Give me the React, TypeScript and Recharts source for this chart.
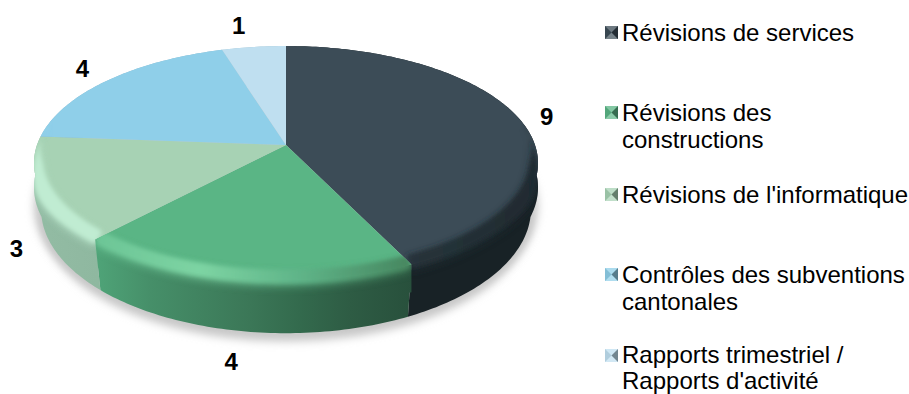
import React from 'react';
import { PieChart, Pie, Legend } from 'recharts';

const categories = [
  'Révisions de services',
  'Révisions des\nconstructions',
  "Révisions de l'informatique",
  'Contrôles des subventions\ncantonales',
  "Rapports trimestriel /\nRapports d'activité",
];
const values = [9, 4, 3, 4, 1];
const faceColors = ['#3c4c57', '#5ab585', '#a7d2b4', '#8fcfe9', '#bfdff0'];

// shading of the tilted disc, one entry per slice: [x position in px, colour]
const wallStops: [number, string][][] = [
  [[400, '#182226'], [540, '#182226']],
  [[95, '#4fa478'], [150, '#468f69'], [250, '#3b7757'], [300, '#336a4d'], [350, '#2e5c44'], [412, '#28503c']],
  [[33, '#93bca4'], [97, '#8fb8a0']],
  [[33, '#8fb8cc'], [100, '#8fb8cc']],
  [[200, '#9fc0d0'], [290, '#9fc0d0']],
];
const rimStops: [number, string][][] = [
  [[400, '#27343b'], [540, '#1f2a30']],
  [[95, '#6cc596'], [200, '#7dd4a3'], [300, '#5fb488'], [412, '#46865f']],
  [[33, '#c0ecd2'], [97, '#c0ecd2']],
  [[33, '#a8e0f0'], [100, '#a8e0f0']],
  [[200, '#bfdff0'], [290, '#bfdff0']],
];

const chartData = categories.map((name, i) => ({ name, value: values[i], fill: faceColors[i] }));

const WIDTH = 909;
const HEIGHT = 394;
const CX = 286;
const CY = 145;

// perspective of the disc: half axes, vanishing factor, wall height,
// how far the wall bulges straight down and how much its foot narrows
const AX = 249;
const AY = 114.2;
const PERSP = 0.154;
const DEPTH = 45;
const BULGE = 24;
const FOOT = 0.972;

// where each value label sits relative to the slice's outer edge
const labelOffsets = [[26, -4], [-11, 83], [-24, 59], [-26, -12], [-15, -21]];
const legendTops = [19, 99, 181, 261, 342];
const legendLineHeights = [27, 27, 27, 27, 26];
const FONT = '"Liberation Sans", Arial, sans-serif';

const project = (cx: number, cy: number, angle: number, r = 1, drop = 0, scale = 1) => {
  const a = (angle * Math.PI) / 180;
  const u = Math.cos(a) * r;
  const v = Math.sin(a) * r;
  const w = 1 + PERSP * v;
  return { x: cx + (scale * AX * u) / w, y: cy - (AY * v) / w + drop / w };
};

const sampleAngles = (start: number, end: number) => {
  const steps = Math.max(2, Math.ceil(Math.abs(end - start)));
  const out: number[] = [];
  for (let i = 0; i <= steps; i++) out.push(start + ((end - start) * i) / steps);
  return out;
};

const toPath = (pts: { x: number; y: number }[]) =>
  pts.map((p, i) => `${i ? 'L' : 'M'}${p.x.toFixed(2)} ${p.y.toFixed(2)}`).join('') + 'Z';

const facePath = (cx: number, cy: number, start: number, end: number) =>
  toPath([{ x: cx, y: cy }, ...sampleAngles(start, end).map((a) => project(cx, cy, a))]);

const wallPath = (cx: number, cy: number, start: number, end: number) => {
  const angles = sampleAngles(start, end);
  const back = angles.slice().reverse();
  return (
    toPath([
      ...angles.map((a) => project(cx, cy, a)),
      ...back.map((a) => project(cx, cy, a, 1, BULGE)),
    ]) +
    toPath([
      ...angles.map((a) => project(cx, cy, a)),
      ...back.map((a) => project(cx, cy, a, 1, DEPTH, FOOT)),
    ])
  );
};

// crescent along the near edge of the face, gone by the time the edge turns away;
// it runs a little further down the wall near the left and right ends of the disc
const rimPath = (cx: number, cy: number, start: number, end: number) => {
  const angles = sampleAngles(start, end);
  const taper = (a: number) => Math.min(1, Math.max(0, (0.2 - Math.sin((a * Math.PI) / 180)) / 0.4));
  const inner = angles.slice().reverse().map((a) => {
    const t = taper(a);
    const p = project(cx, cy, a, 1 - 0.03 * t);
    return { x: p.x, y: p.y - 5 * t };
  });
  const outer = angles.map((a) => {
    const side = Math.cos((a * Math.PI) / 180) ** 8;
    return project(cx, cy, a, 1, taper(a) * (3 + 12 * side));
  });
  return toPath([...outer, ...inner]);
};

const outlinePath = (cx: number, cy: number, r: number, drop: number, scale = 1) =>
  toPath(sampleAngles(0, 360).map((a) => project(cx, cy, a, r, drop, scale)));

const Gradient = ({ id, stops }: { id: string; stops: [number, string][] }) => {
  const x1 = stops[0][0];
  const x2 = stops[stops.length - 1][0];
  return (
    <linearGradient id={id} gradientUnits="userSpaceOnUse" x1={x1} x2={x2} y1={0} y2={0}>
      {stops.map(([x, c], i) => (
        <stop key={i} offset={(x - x1) / (x2 - x1)} stopColor={c} />
      ))}
    </linearGradient>
  );
};

const WallShape = (props: any) => {
  const i = categories.indexOf(props.name);
  return <path d={wallPath(props.cx, props.cy, props.startAngle, props.endAngle)} fill={`url(#wall-${i})`} />;
};

const FaceShape = (props: any) => {
  const { cx, cy, startAngle, endAngle, fill } = props;
  const i = categories.indexOf(props.name);
  const rim = rimPath(cx, cy, startAngle, endAngle);
  return (
    <g>
      <clipPath id={`slice-clip-${i}`}>
        <path d={facePath(cx, cy, startAngle, endAngle)} />
        <path d={wallPath(cx, cy, startAngle, endAngle)} />
      </clipPath>
      <path d={facePath(cx, cy, startAngle, endAngle)} fill={fill} />
      <g clipPath={`url(#slice-clip-${i})`}>
        {/* wide soft band first so the wall fades in below the highlight */}
        <path d={rim} fill={`url(#rim-${i})`} opacity={0.7} filter="url(#rim-soft)" transform="translate(0 3)" />
        <path d={rim} fill={`url(#rim-${i})`} filter="url(#rim-blur)" />
      </g>
    </g>
  );
};

const renderLabel = (props: any) => {
  const { cx, cy, midAngle, value, index } = props;
  const p = project(cx, cy, midAngle);
  return (
    <text
      x={p.x + labelOffsets[index][0]}
      y={p.y + labelOffsets[index][1]}
      textAnchor="middle"
      dominantBaseline="central"
      fontFamily={FONT}
      fontSize={24}
      fontWeight="bold"
      fill="#000"
    >
      {value}
    </text>
  );
};

const Marker = ({ color }: { color: string }) => (
  <svg width={13} height={13} style={{ position: 'absolute', left: 605, top: 7 }}>
    <rect width={13} height={13} fill={color} />
    <path d="M0 0H13L6.5 6.5Z" fill="#fff" opacity={0.25} />
    <path d="M0 13H13L6.5 6.5Z" fill="#fff" opacity={0.3} />
    <path d="M13 0V13L6.5 6.5Z" fill="#000" opacity={0.4} />
    <path d="M0 0V13L6.5 6.5Z" fill="#000" opacity={0.08} />
  </svg>
);

const renderLegend = () => (
  <div style={{ position: 'relative', width: WIDTH, height: HEIGHT, overflow: 'hidden' }}>
    {chartData.map((entry, i) => (
      <div key={entry.name} style={{ position: 'absolute', left: 0, top: legendTops[i], width: WIDTH }}>
        <Marker color={entry.fill} />
        <div
          style={{
            position: 'absolute',
            left: 622,
            top: 0,
            whiteSpace: 'pre',
            font: `24px/${legendLineHeights[i]}px ${FONT}`,
            color: '#000',
          }}
        >
          {entry.name}
        </div>
      </div>
    ))}
  </div>
);

export default function App() {
  return (
    <div style={{ position: 'absolute', left: 0, top: 0, width: WIDTH, height: HEIGHT, background: '#fff' }}>
      <PieChart width={WIDTH} height={HEIGHT} margin={{ top: 0, right: 0, bottom: 0, left: 0 }}>
        <defs>
          <filter id="rim-blur" x="-20%" y="-30%" width="140%" height="160%">
            <feGaussianBlur stdDeviation="2" />
          </filter>
          <filter id="rim-soft" x="-20%" y="-30%" width="140%" height="160%">
            <feGaussianBlur stdDeviation="4" />
          </filter>
          <filter id="shadow-blur" x="-10%" y="-20%" width="120%" height="140%">
            <feGaussianBlur stdDeviation="4" />
          </filter>
          {wallStops.map((stops, i) => (
            <Gradient key={i} id={`wall-${i}`} stops={stops} />
          ))}
          {rimStops.map((stops, i) => (
            <Gradient key={i} id={`rim-${i}`} stops={stops} />
          ))}
        </defs>
        <path d={outlinePath(CX, CY, 1, DEPTH - 3)} fill="#c8c8c8" filter="url(#shadow-blur)" />
        <path d={outlinePath(CX, CY, 1, DEPTH + 7, FOOT)} fill="#c8c8c8" filter="url(#shadow-blur)" />
        <Pie
          data={chartData}
          dataKey="value"
          nameKey="name"
          cx={CX}
          cy={CY}
          outerRadius={100}
          startAngle={90}
          endAngle={-270}
          stroke="none"
          legendType="none"
          shape={WallShape}
          isAnimationActive={false}
        />
        <Pie
          data={chartData}
          dataKey="value"
          nameKey="name"
          cx={CX}
          cy={CY}
          outerRadius={100}
          startAngle={90}
          endAngle={-270}
          stroke="none"
          shape={FaceShape}
          label={renderLabel}
          labelLine={false}
          isAnimationActive={false}
        />
        <Legend content={renderLegend} wrapperStyle={{ left: 0, top: 0, width: WIDTH, height: HEIGHT, pointerEvents: 'none' }} />
      </PieChart>
    </div>
  );
}
